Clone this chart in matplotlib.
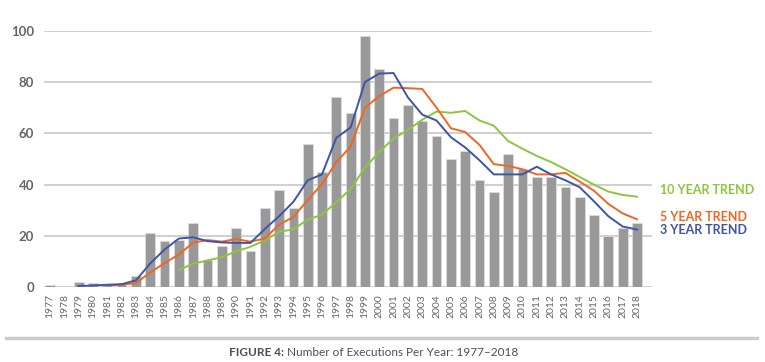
import matplotlib
matplotlib.use("Agg")
import matplotlib.pyplot as plt
from matplotlib.lines import Line2D

plt.rcParams['font.family'] = ['Lato', 'DejaVu Sans']

years = list(range(1977, 2019))
executions = [1, 0, 2, 1.5, 1, 1.5, 4.5, 21, 18, 18.5, 25, 10.5, 16, 23, 14,
              31, 38, 31, 56, 45, 74, 68, 98, 85, 66, 71, 65, 59, 50, 53,
              42, 37, 52, 46, 43, 43, 39, 35, 28, 20, 23, 25]

trend3_years = list(range(1979, 2019))
trend3 = [0.5, 0.7, 1.0, 1.2, 2.7, 9.3, 14.7, 19.0, 19.5, 18.0, 17.5, 17.3, 17.3,
          22.7, 27.7, 33.3, 41.7, 44.0, 58.3, 62.3, 80.0, 83.3, 83.5, 74.0,
          67.3, 65.0, 58.5, 54.5, 49.5, 44.0, 44.0, 44.0, 47.0, 44.0, 41.7,
          39.0, 33.5, 27.7, 23.7, 22.5]

trend5_years = list(range(1981, 2019))
trend5 = [0.8, 1.0, 1.6, 5.8, 9.4, 12.8, 17.4, 18.4, 17.8, 18.8, 17.8, 19.0,
          24.4, 27.4, 34.0, 40.2, 48.8, 54.8, 70.0, 74.5, 77.8, 77.6, 77.3,
          70.0, 62.0, 60.5, 55.5, 48.0, 47.3, 46.0, 44.0, 44.0, 44.6, 41.2,
          37.6, 32.5, 28.8, 26.5]

trend10_years = list(range(1986, 2019))
trend10 = [6.8, 9.2, 10.5, 11.7, 14.0, 15.8, 18.3, 21.6, 22.6, 26.4, 28.3, 33.2,
           38.3, 46.6, 52.8, 58.0, 61.3, 65.3, 68.5, 68.0, 68.7, 65.0, 63.0,
           57.0, 54.0, 51.2, 48.8, 46.0, 43.0, 40.0, 37.3, 36.0, 35.3]

trend_labels = ["10 YEAR TREND", "5 YEAR TREND", "3 YEAR TREND"]
yticks = [0, 20, 40, 60, 80, 100]

GREEN = "#8cc63f"
ORANGE = "#f26522"
BLUE = "#3d55a6"
BAR = "#999999"
GRID = "#cccccc"

fig = plt.figure(figsize=(7.65, 3.62), dpi=100)
ax = fig.add_axes([44/765, 1 - 287.3/362, (652-44)/765, (287.3-30.7)/362])

ax.set_xlim(1976.58, 2019.05)
ax.set_ylim(0, 100)

for y in yticks:
    ax.axhline(y, color=GRID, lw=1.3, zorder=0)

ax.bar(years, executions, width=0.68, color=BAR, edgecolor="#e0e0e0",
       linewidth=0.5, zorder=2)

ax.plot(trend10_years, trend10, color=GREEN, lw=1.4, zorder=3)
ax.plot(trend5_years, trend5, color=ORANGE, lw=1.4, zorder=4)
ax.plot(trend3_years, trend3, color=BLUE, lw=1.4, zorder=5)

for s in ax.spines.values():
    s.set_visible(False)

ax.set_yticks(yticks)
ax.set_yticklabels([str(v) for v in yticks], fontsize=9.5, fontweight='bold',
                   color="#666666")
ax.set_xticks(years)
ax.set_xticklabels([str(y) for y in years], rotation=90, fontsize=7.5,
                   color="#666666")
ax.tick_params(axis='both', length=0)
ax.tick_params(axis='y', pad=7)
ax.tick_params(axis='x', pad=5)

fig.text(660/765, 1 - 190.5/362, trend_labels[0], color=GREEN, fontsize=9,
         fontweight='bold', va='center', ha='left')
fig.text(660/765, 1 - 217.3/362, trend_labels[1], color=ORANGE, fontsize=9,
         fontweight='bold', va='center', ha='left')
fig.text(660/765, 1 - 230.0/362, trend_labels[2], color=BLUE, fontsize=9,
         fontweight='bold', va='center', ha='left')

fig.add_artist(Line2D([6/765, 757/765], [1 - 338/362, 1 - 338/362],
                      color="#cccccc", lw=2.5, transform=fig.transFigure))

cap_y = 1 - 352.5/362
t1 = fig.text(229/765, cap_y, "FIGURE 4: ", fontsize=8.5, fontweight='bold',
              color="#4a4f5c", va='center', ha='left')
fig.canvas.draw()
bb = t1.get_window_extent()
fig.text(bb.x1/765, cap_y, "Number of Executions Per Year: 1977\u20132018",
         fontsize=8.5, color="#4a4f5c", va='center', ha='left')

fig.savefig("out.png", dpi=100)
